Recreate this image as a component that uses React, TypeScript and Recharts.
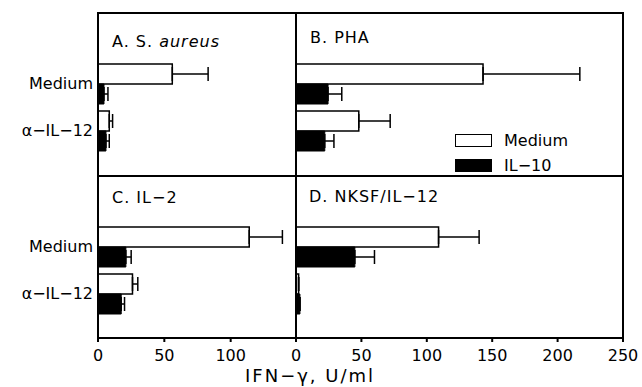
import React from 'react';
import { BarChart, Bar, XAxis, YAxis, ErrorBar, Legend } from 'recharts';

// categories shared by all four panels
const categories = ['Medium', 'α−IL−12'];
const seriesNames = ['Medium', 'IL−10'];

// A. S. aureus
const aMedium = [56, 8.5];
const aMediumErr = [27, 2.5];
const aIL10 = [4.5, 6];
const aIL10Err = [3, 2.5];

// B. PHA
const bMedium = [143, 48];
const bMediumErr = [74, 24];
const bIL10 = [24.5, 22];
const bIL10Err = [10.5, 7];

// C. IL-2
const cMedium = [114, 26];
const cMediumErr = [25, 4];
const cIL10 = [21, 17.5];
const cIL10Err = [4, 2.5];

// D. NKSF/IL-12
const dMedium = [109, 2];
const dMediumErr = [31, 0];
const dIL10 = [45, 3];
const dIL10Err = [15, 0];

const leftTicks = [0, 50, 100];
const rightTicks = [0, 50, 100, 150, 200, 250];

const FONT = '"DejaVu Sans", Verdana, sans-serif';
const tickStyle = { fontSize: 16, fontFamily: FONT, fill: '#000' };
const lineStyle = { stroke: '#000', strokeWidth: 2 };

const buildRows = (med: number[], medErr: number[], il: number[], ilErr: number[]) =>
  categories.map((cat, i) => ({
    cat,
    medium: med[i],
    mediumErr: [0, medErr[i]],
    il10: il[i],
    il10Err: [0, ilErr[i]],
  }));

const renderLegend = (props: any) => {
  const payload = [...(props.payload || [])].sort(
    (a: any, b: any) => seriesNames.indexOf(a.value) - seriesNames.indexOf(b.value)
  );
  return (
    <div style={{ fontFamily: FONT, fontSize: 16, color: '#000' }}>
      {payload.map((entry: any) => (
        <div key={entry.value} style={{ display: 'flex', alignItems: 'center', height: 25 }}>
          <div
            style={{
              width: 37,
              height: 13,
              boxSizing: 'border-box',
              border: '1.5px solid #000',
              background: entry.color,
              marginRight: 12,
            }}
          />
          <span style={{ lineHeight: '16px' }}>{entry.value}</span>
        </div>
      ))}
    </div>
  );
};

interface PanelProps {
  rows: any[];
  domain: [number, number];
  ticks: number[];
  left: number;
  top: number;
  width: number;
  height: number;
  yWidth: number;
  marginTop: number;
  marginRight: number;
  xHeight: number;
  showTicks: boolean;
  showCats: boolean;
  padBottom: number;
  legend?: boolean;
}

function Panel(p: PanelProps) {
  return (
    <div style={{ position: 'absolute', left: p.left, top: p.top }}>
      <BarChart
        width={p.width}
        height={p.height}
        data={p.rows}
        layout="vertical"
        barGap={0}
        barSize={20}
        margin={{ top: p.marginTop, right: p.marginRight, bottom: 0, left: 0 }}
      >
        <XAxis
          type="number"
          domain={p.domain}
          ticks={p.ticks}
          interval={0}
          height={p.xHeight}
          axisLine={lineStyle}
          tickLine={p.showTicks ? lineStyle : false}
          tickSize={4}
          tickMargin={8}
          tick={p.showTicks ? tickStyle : false}
        />
        <YAxis
          type="category"
          dataKey="cat"
          width={p.yWidth}
          padding={{ top: 47, bottom: p.padBottom }}
          axisLine={lineStyle}
          tickLine={false}
          tickSize={3}
          tickMargin={2}
          tick={p.showCats ? tickStyle : false}
        />
        {p.legend && (
          <Legend
            layout="vertical"
            align="center"
            verticalAlign="middle"
            content={renderLegend}
            wrapperStyle={{ left: 179, top: 128, width: 140 }}
          />
        )}
        <Bar
          dataKey="medium"
          name={seriesNames[0]}
          fill="#fff"
          stroke="#000"
          strokeWidth={1.5}
          isAnimationActive={false}
        >
          <ErrorBar dataKey="mediumErr" direction="x" width={7} stroke="#000" strokeWidth={1.5} />
        </Bar>
        <Bar
          dataKey="il10"
          name={seriesNames[1]}
          fill="#000"
          stroke="#000"
          strokeWidth={1}
          isAnimationActive={false}
        >
          <ErrorBar dataKey="il10Err" direction="x" width={7} stroke="#000" strokeWidth={1.5} />
        </Bar>
      </BarChart>
    </div>
  );
}

const titleStyle: React.CSSProperties = {
  position: 'absolute',
  fontFamily: FONT,
  fontSize: 16,
  lineHeight: '16px',
  letterSpacing: 1,
  color: '#000',
  whiteSpace: 'nowrap',
};

export default function App() {
  return (
    <div style={{ position: 'absolute', left: 0, top: 0, width: 642, height: 387, background: '#fff' }}>
      <Panel
        rows={buildRows(aMedium, aMediumErr, aIL10, aIL10Err)}
        domain={[0, 150]}
        ticks={leftTicks}
        left={0}
        top={0}
        width={297}
        height={176}
        yWidth={98}
        marginTop={13}
        marginRight={0}
        xHeight={0}
        showTicks={false}
        showCats={true}
        padBottom={22}
      />
      <Panel
        rows={buildRows(bMedium, bMediumErr, bIL10, bIL10Err)}
        domain={[0, 250]}
        ticks={rightTicks}
        left={276}
        top={0}
        width={366}
        height={176}
        yWidth={20}
        marginTop={13}
        marginRight={19}
        xHeight={0}
        showTicks={false}
        showCats={false}
        padBottom={22}
        legend
      />
      <Panel
        rows={buildRows(cMedium, cMediumErr, cIL10, cIL10Err)}
        domain={[0, 150]}
        ticks={leftTicks}
        left={0}
        top={176}
        width={297}
        height={211}
        yWidth={98}
        marginTop={0}
        marginRight={0}
        xHeight={49}
        showTicks={true}
        showCats={true}
        padBottom={21}
      />
      <Panel
        rows={buildRows(dMedium, dMediumErr, dIL10, dIL10Err)}
        domain={[0, 250]}
        ticks={rightTicks}
        left={276}
        top={176}
        width={366}
        height={211}
        yWidth={20}
        marginTop={0}
        marginRight={19}
        xHeight={49}
        showTicks={true}
        showCats={false}
        padBottom={21}
      />
      {/* panel frame: outer box and the two dividers */}
      <div
        style={{
          position: 'absolute',
          left: 97,
          top: 12,
          width: 527,
          height: 327,
          boxSizing: 'border-box',
          border: '2px solid #000',
          pointerEvents: 'none',
        }}
      />
      <div style={{ position: 'absolute', left: 97, top: 175, width: 527, height: 2, background: '#000' }} />
      <div style={{ position: 'absolute', left: 295, top: 12, width: 2, height: 327, background: '#000' }} />
      <div style={{ ...titleStyle, left: 112, top: 34 }}>
        A. S. <i>aureus</i>
      </div>
      <div style={{ ...titleStyle, left: 310, top: 30 }}>B. PHA</div>
      <div style={{ ...titleStyle, left: 112, top: 190 }}>C. IL−2</div>
      <div style={{ ...titleStyle, left: 309, top: 189 }}>D. NKSF/IL−12</div>
      <div
        style={{
          ...titleStyle,
          fontSize: 18,
          lineHeight: '18px',
          letterSpacing: 2,
          left: 245,
          top: 367,
        }}
      >
        IFN−γ, U/ml
      </div>
    </div>
  );
}
